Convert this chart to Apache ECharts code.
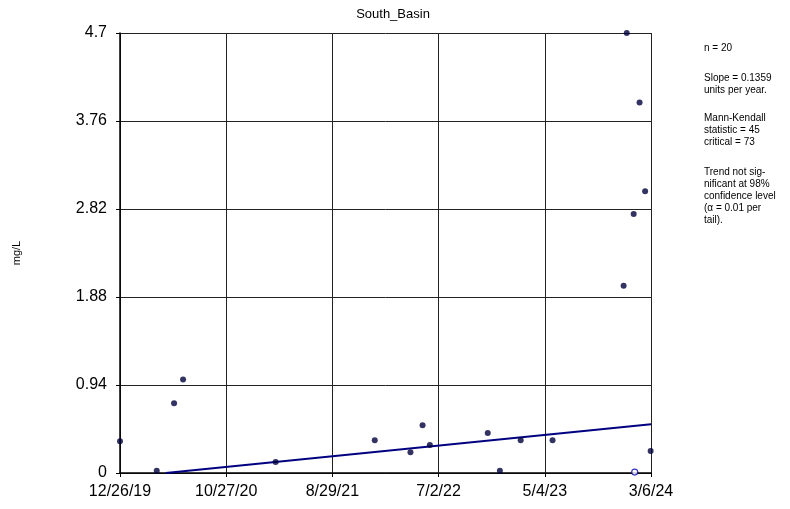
<!DOCTYPE html>
<html><head><meta charset="utf-8">
<script src="https://cdn.jsdelivr.net/npm/echarts@6/dist/echarts.min.js"></script>
<style>html,body{margin:0;padding:0;background:#fff}#c{width:790px;height:509px}</style>
</head><body><div id="c"></div>
<script>
var title = 'South_Basin';
var yName = 'mg/L';
var xStart = '2019-12-26';
var xEnd = '2024-03-06';
var xTickCount = 5;
var yMax = 4.7;
var yStep = 0.94;
var sampleDates = ['2019-12-26','2020-04-10','2020-05-30','2020-06-25','2021-03-19','2021-12-30','2022-04-12','2022-05-17','2022-06-07','2022-11-21','2022-12-26','2023-02-24','2023-05-27','2023-12-18','2023-12-27','2024-01-16','2024-02-02','2024-02-18','2024-03-05'];
var sampleValues = [0.34,0.025,0.745,1.0,0.117,0.349,0.221,0.509,0.299,0.427,0.025,0.349,0.349,2.0,4.7,2.767,3.957,3.01,0.235];
var nondetectDates = ['2024-01-19'];
var nondetectValues = [0.01];
var trendDates = ['2020-05-06','2024-03-06'];
var trendValues = [0, 0.52];
var notes = ['n = 20','Slope = 0.1359','units per year.','Mann-Kendall','statistic = 45','critical = 73','Trend not sig-','nificant at 98%','confidence level','(\u03b1 = 0.01 per','tail).'];
var noteRows = [48,78,90,118,130,142,172,184,196,208,220];

var base = Date.UTC(2019,11,26);
function dayOf(s){var p=s.split('-');return (Date.UTC(+p[0],+p[1]-1,+p[2])-base)/86400000;}
function pairs(ds,vs){return ds.map(function(d,i){return [dayOf(d),vs[i]];});}
function fmtDay(v){var d=new Date(base+Math.floor(v+1e-6)*86400000);return (d.getUTCMonth()+1)+'/'+d.getUTCDate()+'/'+String(d.getUTCFullYear()).slice(2);}
var span = dayOf(xEnd) - dayOf(xStart);

var FF = '"Liberation Sans", Arial, sans-serif';
var chart = echarts.init(document.getElementById('c'));
var graphics = notes.map(function(t,i){
  return {type:'text',x:704,y:noteRows[i],style:{text:t,font:'10px '+FF,fill:'#000',textVerticalAlign:'middle',verticalAlign:'middle'}};
});
chart.setOption({
  animation:false,
  title:{text:title,left:388,textAlign:'center',top:3,textStyle:{fontSize:13,fontWeight:'normal',color:'#000',fontFamily:FF}},
  grid:{left:120,right:139,top:33,bottom:36,containLabel:false},
  xAxis:{type:'value',min:0,max:span,interval:span/xTickCount,
    axisLine:{show:true,lineStyle:{color:'#000',width:1.5}},
    axisTick:{show:true,length:4,lineStyle:{color:'#000'}},
    splitLine:{show:true,lineStyle:{color:'#222',width:1}},
    axisLabel:{formatter:fmtDay,color:'#000',fontSize:16,margin:11,fontFamily:FF}},
  yAxis:{type:'value',min:0,max:yMax,interval:yStep,name:yName,nameLocation:'middle',nameGap:98,
    nameTextStyle:{fontSize:11,color:'#000',fontFamily:FF},
    axisLine:{show:true,lineStyle:{color:'#000',width:1.5}},
    axisTick:{show:true,length:4,lineStyle:{color:'#000'}},
    splitLine:{show:true,lineStyle:{color:'#222',width:1}},
    axisLabel:{formatter:function(v){return String(+v.toFixed(2));},color:'#000',fontSize:16,margin:13,fontFamily:FF}},
  series:[
    {type:'line',data:pairs(trendDates,trendValues),symbol:'none',lineStyle:{color:'#000080',width:2},z:3},
    {type:'scatter',data:pairs(sampleDates,sampleValues),symbol:'circle',symbolSize:6,itemStyle:{color:'#00003c'},z:5},
    {type:'scatter',data:pairs(nondetectDates,nondetectValues),symbol:'circle',symbolSize:6,itemStyle:{color:'#fff',borderColor:'#0000aa',borderWidth:1.2},z:5}
  ],
  graphic:graphics
});
</script></body></html>
